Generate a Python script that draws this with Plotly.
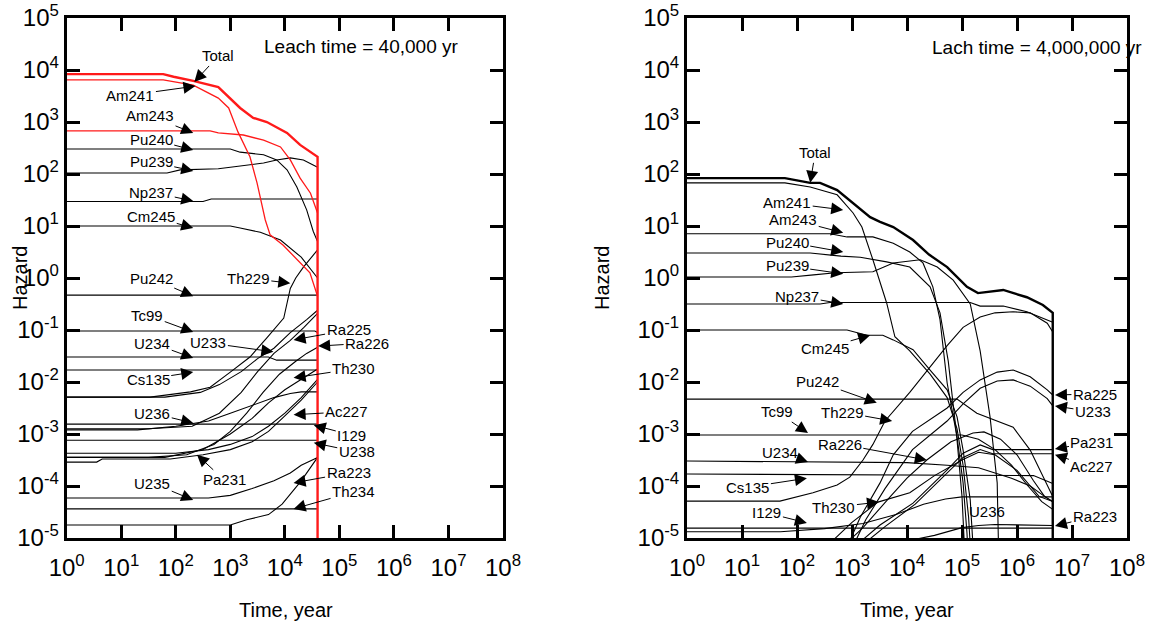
import plotly.graph_objects as go

# ---------------- data: (log10 time [yr], log10 hazard) ----------------
# Left panel: leach time 40,000 yr
L_TOTAL = [(0, 3.92), (1.77, 3.92), (1.96, 3.87), (2.32, 3.79), (2.78, 3.67), (3.18, 3.27), (3.42, 3.08),
           (3.67, 3.0), (4.04, 2.79), (4.28, 2.56), (4.6, 2.33), (4.6, -7)]
L_AM241 = [(0, 3.81), (1.77, 3.81), (2.32, 3.71), (2.78, 3.46), (2.97, 3.27), (3.14, 2.81), (3.36, 2.33),
           (3.49, 1.83), (3.64, 1.12), (3.73, 0.83), (3.97, 0.63), (4.22, 0.35), (4.46, 0.1), (4.6, -0.35)]
L_AM243 = [(0, 2.83), (2.63, 2.83), (2.78, 2.79), (3.24, 2.75), (3.61, 2.65), (3.92, 2.52), (4.1, 2.27),
           (4.28, 1.92), (4.47, 1.63), (4.6, 1.25)]
L_PU240 = [(0, 2.48), (3.0, 2.48), (3.18, 2.42), (3.61, 2.37), (3.85, 2.27), (4.04, 2.08), (4.22, 1.75),
           (4.4, 1.31), (4.52, 0.9), (4.6, 0.7)]
L_PU239 = [(0, 2.02), (1.84, 2.02), (2.08, 2.08), (2.78, 2.1), (3.0, 2.13), (3.3, 2.17), (3.61, 2.21),
           (3.85, 2.27), (4.1, 2.31), (4.34, 2.27), (4.6, 2.13)]
L_NP237 = [(0, 1.47), (2.5, 1.47), (2.65, 1.52), (4.6, 1.52)]
L_CM245 = [(0, 1.0), (3.0, 1.0), (3.18, 0.96), (3.55, 0.88), (3.92, 0.73), (4.04, 0.63), (4.3, 0.4), (4.6, 0.0)]
L_PU242 = [(0, -0.33), (4.6, -0.33)]
L_TH229 = [(0, -2.29), (1.53, -2.29), (2.27, -2.19), (2.63, -2.1), (3.0, -1.81), (3.36, -1.52), (3.67, -1.15),
           (3.98, -0.77), (4.1, -0.2), (4.2, 0.0), (4.34, 0.21), (4.6, 0.54)]
L_U233 = [(0, -2.29), (1.8, -2.29), (2.45, -2.2), (2.8, -2.05), (3.2, -1.8), (3.5, -1.55), (3.8, -1.35),
          (4.1, -1.05), (4.4, -0.8), (4.6, -0.62)]
L_RA225 = [(0, -2.9), (1.5, -2.9), (2.3, -2.85), (2.8, -2.6), (3.2, -2.2), (3.5, -1.8), (3.8, -1.45),
           (4.1, -1.2), (4.35, -0.95), (4.6, -0.68)]
L_TC99 = [(0, -1.02), (4.55, -1.02), (4.6, -1.05)]
L_U234 = [(0, -1.52), (3.7, -1.52), (3.85, -1.58), (4.6, -1.58)]
L_CS135 = [(0, -1.77), (4.6, -1.77)]
L_RA226 = [(0, -3.45), (1.5, -3.45), (2.2, -3.4), (2.7, -3.2), (3.0, -2.95), (3.3, -2.6), (3.6, -2.2),
           (3.9, -1.85), (4.2, -1.6), (4.4, -1.45), (4.6, -1.33)]
L_TH230 = [(0, -3.45), (1.8, -3.45), (2.5, -3.3), (3.0, -3.0), (3.4, -2.7), (3.7, -2.4), (4.0, -2.15),
           (4.3, -1.95), (4.6, -1.75)]
L_U236 = [(0, -2.92), (1.3, -2.92), (2.0, -2.85), (2.6, -2.75), (3.0, -2.6), (3.4, -2.45), (3.8, -2.3),
          (4.1, -2.22), (4.3, -2.19), (4.6, -2.19)]
L_I129 = [(0, -2.81), (4.6, -2.81)]
L_U238 = [(0, -3.12), (4.6, -3.12)]
L_PA231 = [(0, -3.37), (2.0, -3.37), (2.6, -3.3), (3.0, -3.2), (3.4, -3.05), (3.7, -2.85), (4.0, -2.6),
           (4.3, -2.3), (4.6, -1.95)]
L_AC227 = [(0, -3.54), (0.55, -3.54), (0.65, -3.48), (1.9, -3.48), (2.5, -3.4), (3.0, -3.3), (3.4, -3.15),
           (3.7, -2.95), (4.0, -2.65), (4.3, -2.35), (4.6, -2.0)]
L_U235 = [(0, -4.23), (2.6, -4.23), (3.0, -4.18), (3.4, -4.05), (3.8, -3.9), (4.1, -3.75), (4.3, -3.6), (4.6, -3.45)]
L_RA223 = [(0, -4.75), (3.0, -4.75), (3.3, -4.65), (3.7, -4.55), (3.95, -4.35), (4.15, -4.1), (4.3, -3.9), (4.6, -3.45)]
L_TH234 = [(0, -4.44), (4.6, -4.44)]

# Right panel: leach time 4,000,000 yr
R_TOTAL = [(0, 1.92), (1.78, 1.92), (2.24, 1.83), (2.42, 1.83), (2.73, 1.69), (3.09, 1.37), (3.33, 1.17),
           (3.51, 1.08), (3.75, 0.98), (4.11, 0.73), (4.4, 0.45), (4.73, 0.21), (5.09, -0.17), (5.29, -0.29),
           (5.75, -0.23), (6.18, -0.37), (6.47, -0.52), (6.65, -0.67), (6.65, -7)]
R_AM241 = [(0, 1.83), (1.78, 1.83), (2.24, 1.75), (2.73, 1.6), (3.02, 1.25), (3.18, 0.98), (3.38, 0.35),
           (3.63, -0.48), (3.78, -1.13), (4.05, -1.4), (4.42, -1.85), (4.73, -2.3), (4.91, -2.9), (5.02, -3.6),
           (5.12, -4.6), (5.17, -5.5)]
R_AM243 = [(0, 0.85), (2.6, 0.85), (2.91, 0.79), (3.38, 0.79), (3.75, 0.67), (4.05, 0.5), (4.29, 0.29),
           (4.47, -0.17), (4.6, -0.8), (4.73, -2.02), (4.91, -3.06), (5.02, -3.94), (5.09, -4.9), (5.12, -5.5)]
R_PU240 = [(0, 0.48), (2.24, 0.48), (2.8, 0.42), (3.15, 0.4), (3.63, 0.31), (4.05, 0.21), (4.42, -0.17),
           (4.6, -0.67), (4.75, -1.6), (4.9, -3.0), (5.0, -4.2), (5.06, -5.5)]
R_PU239 = [(0, 0.02), (1.9, 0.02), (2.3, 0.06), (2.7, 0.1), (3.38, 0.12), (3.75, 0.29), (4.24, 0.35),
           (4.55, 0.21), (4.84, -0.04), (5.15, -0.5), (5.33, -1.4), (5.51, -2.67), (5.64, -3.94), (5.67, -5.5)]
R_NP237 = [(0, -0.5), (2.42, -0.5), (2.6, -0.47), (5.15, -0.47), (5.33, -0.54), (5.75, -0.54), (6.18, -0.65),
           (6.45, -0.77), (6.65, -0.85)]
R_CM245 = [(0, -1.0), (2.91, -1.0), (3.27, -1.1), (3.56, -1.1), (3.75, -1.19), (4.11, -1.38), (4.42, -1.77),
           (4.73, -2.15), (4.91, -2.67), (5.02, -3.31), (5.15, -4.27), (5.22, -5.5)]
R_PU242 = [(0, -2.33), (4.91, -2.33), (5.27, -2.6), (5.93, -2.87), (6.24, -3.31), (6.42, -3.69), (6.65, -4.2)]
R_TC99 = [(0, -3.02), (5.0, -3.02), (5.3, -3.1), (5.6, -3.3), (5.9, -3.6), (6.2, -4.0), (6.45, -4.3), (6.65, -4.45)]
R_TH229 = [(0, -4.29), (1.69, -4.29), (2.29, -4.13), (2.73, -3.98), (2.96, -3.83), (3.2, -3.5), (3.38, -3.2),
           (3.6, -2.75), (4.05, -2.2), (4.42, -1.7), (4.73, -1.3), (5.02, -0.95), (5.33, -0.75), (5.6, -0.67),
           (5.93, -0.65), (6.24, -0.67), (6.55, -0.87), (6.65, -1.04)]
R_RA225 = [(2.9, -5.2), (3.15, -4.6), (3.51, -3.94), (3.75, -3.4), (4.1, -2.95), (4.73, -2.5), (5.02, -2.2),
           (5.33, -1.96), (5.64, -1.81), (5.93, -1.77), (6.24, -1.9), (6.55, -2.15), (6.65, -2.25)]
R_U233 = [(3.0, -5.2), (3.25, -4.65), (3.6, -4.05), (4.1, -3.3), (4.73, -2.75), (5.02, -2.42), (5.33, -2.12),
          (5.64, -1.98), (5.93, -1.96), (6.24, -2.08), (6.55, -2.32), (6.65, -2.46)]
R_PA231 = [(2.9, -5.3), (3.51, -4.75), (4.11, -4.33), (4.73, -3.69), (5.02, -3.37), (5.33, -3.21), (5.56, -3.3),
           (6.65, -3.3)]
R_AC227 = [(3.0, -5.3), (3.6, -4.78), (4.15, -4.35), (4.73, -3.75), (5.02, -3.45), (5.33, -3.3), (5.56, -3.38),
           (6.65, -3.38)]
R_TH230 = [(2.5, -5.2), (3.0, -4.7), (3.47, -4.31), (4.05, -4.13), (4.5, -3.8), (5.0, -3.5), (5.3, -3.35),
           (5.6, -3.4), (6.0, -3.7), (6.4, -4.2), (6.65, -4.3)]
R_RA226 = [(2.7, -5.3), (3.2, -4.8), (3.7, -4.2), (4.0, -3.85), (4.36, -3.5), (4.8, -3.15), (5.2, -2.98),
           (5.4, -2.96), (5.7, -3.1), (6.0, -3.4), (6.3, -3.9), (6.5, -4.2), (6.65, -4.3)]
R_U234 = [(0, -3.52), (4.0, -3.55), (4.73, -3.6), (5.3, -3.65), (5.9, -3.85), (6.24, -4.0), (6.5, -4.2), (6.65, -4.3)]
R_CS135 = [(0, -3.77), (6.3, -3.8), (6.65, -3.95)]
R_I129 = [(0, -4.81), (6.65, -4.81)]
R_U236 = [(0, -4.88), (1.7, -4.88), (2.5, -4.82), (3.2, -4.72), (3.8, -4.55), (4.3, -4.35), (4.7, -4.25),
          (5.0, -4.21), (6.65, -4.21)]
R_RA223 = [(3.2, -5.3), (3.8, -5.1), (4.5, -4.95), (5.0, -4.8), (5.3, -4.76), (5.6, -4.74), (6.65, -4.76)]

# labels: (text, arrow-head log10 x, arrow-head log10 y, text offset dx px, dy px)
L_LABELS = [("Total", 2.34, 3.77, 24, -26), ("Am241", 2.36, 3.69, -65, 9), ("Am243", 2.32, 2.79, -43, -17),
            ("Pu240", 2.32, 2.46, -42, -11), ("Pu239", 2.32, 2.06, -42, -9), ("Np237", 2.32, 1.48, -42, -9),
            ("Cm245", 2.32, 0.96, -42, -12), ("Pu242", 2.32, -0.35, -42, -18), ("Th229", 4.1, -0.1, -42, -5),
            ("Tc99", 2.32, -1.04, -46, -17), ("U234", 2.32, -1.54, -41, -15), ("U233", 3.79, -1.42, -65, -9),
            ("Cs135", 2.32, -1.81, -45, 7), ("U236", 2.32, -2.79, -41, -10), ("Pa231", 2.39, -3.4, 27, 25),
            ("U235", 2.32, -4.27, -41, -17), ("Ra225", 4.16, -1.19, 55, -10), ("Ra226", 4.61, -1.31, 49, -3),
            ("Th230", 4.16, -1.92, 60, -9), ("Ac227", 4.16, -2.63, 53, -3), ("I129", 4.53, -2.83, 38, 10),
            ("U238", 4.53, -3.17, 43, 9), ("Ra223", 4.16, -3.94, 55, -10), ("Th234", 4.16, -4.44, 60, -17)]
R_LABELS = [("Total", 2.24, 1.83, 5, -30), ("Am241", 2.84, 1.31, -56, -7), ("Am243", 2.84, 0.87, -50, -13),
            ("Pu240", 2.84, 0.5, -56, -10), ("Pu239", 2.84, 0.08, -56, -8), ("Np237", 2.84, -0.5, -46, -8),
            ("Cm245", 3.33, -1.1, -45, 13), ("Pu242", 3.45, -2.4, -59, -21), ("Tc99", 2.2, -2.98, -31, -21),
            ("Th229", 3.73, -2.75, -50, -9), ("Ra226", 4.36, -3.5, -87, -16), ("U234", 2.2, -3.54, -28, -10),
            ("Cs135", 2.18, -3.85, -59, 9), ("Th230", 3.49, -4.31, -45, 5), ("I129", 2.18, -4.71, -40, -10),
            ("U236", 5.47, -4.27, -1, 11), ("Ra225", 6.69, -2.25, 40, -1), ("U233", 6.69, -2.46, 38, 6),
            ("Pa231", 6.69, -3.29, 37, -7), ("Ac227", 6.69, -3.4, 37, 12), ("Ra223", 6.69, -4.77, 40, -10)]

X_TICK_EXP = [0, 1, 2, 3, 4, 5, 6, 7, 8]
Y_TICK_EXP = [-5, -4, -3, -2, -1, 0, 1, 2, 3, 4, 5]

RED = "#ff1a1a"
FONT = "Liberation Sans, Arial, sans-serif"
W, H = 1155, 625

fig = go.Figure()


def add(series, xa, ya, color="black", width=1.1):
    fig.add_trace(go.Scatter(x=[10 ** p[0] for p in series], y=[10 ** p[1] for p in series],
                             mode="lines", line=dict(color=color, width=width),
                             xaxis=xa, yaxis=ya, showlegend=False, hoverinfo="skip"))


for s in [L_PU240, L_PU239, L_NP237, L_CM245, L_PU242, L_TH229, L_U233, L_RA225, L_TC99, L_U234, L_CS135,
          L_RA226, L_TH230, L_U236, L_I129, L_U238, L_PA231, L_AC227, L_U235, L_RA223, L_TH234]:
    add(s, "x", "y")
add(L_AM243, "x", "y", RED, 1.3)
add(L_AM241, "x", "y", RED, 1.3)
add(L_TOTAL, "x", "y", RED, 2.4)

for s in [R_AM241, R_AM243, R_PU240, R_PU239, R_NP237, R_CM245, R_PU242, R_TC99, R_TH229, R_RA225, R_U233,
          R_PA231, R_AC227, R_TH230, R_RA226, R_U234, R_CS135, R_I129, R_U236, R_RA223]:
    add(s, "x2", "y2")
add(R_TOTAL, "x2", "y2", "black", 2.4)

annotations = []
for labels, xr, yr in [(L_LABELS, "x", "y"), (R_LABELS, "x2", "y2")]:
    for text, hx, hy, dx, dy in labels:
        annotations.append(dict(text=text, x=hx, y=hy, xref=xr, yref=yr, ax=dx, ay=dy,
                                showarrow=True, arrowhead=2, arrowsize=2.4, arrowwidth=1,
                                arrowcolor="black", font=dict(size=15, color="black", family=FONT)))


def paper_text(text, px, py, size, angle=0):
    annotations.append(dict(text=text, x=px / W, y=1 - py / H, xref="paper", yref="paper",
                            xanchor="center", yanchor="middle", showarrow=False, textangle=angle,
                            font=dict(size=size, color="black", family=FONT)))


paper_text("Leach time = 40,000 yr", 361, 46, 19)
paper_text("Lach time = 4,000,000 yr", 1037, 48, 19)
paper_text("Time, year", 286, 610, 20)
paper_text("Time, year", 907, 610, 20)
paper_text("Hazard", 20, 278, 20, -90)
paper_text("Hazard", 602, 278, 20, -90)

xticktext = ["10<sup>%d</sup>" % e for e in X_TICK_EXP]
yticktext = ["10<sup>%d</sup>" % e for e in Y_TICK_EXP]

common_x = dict(type="log", range=[0, 8], tickmode="array", tickvals=[10 ** e for e in X_TICK_EXP],
                ticktext=xticktext, ticks="inside", ticklen=13, tickwidth=2.5, tickcolor="black",
                showline=True, linewidth=3, linecolor="black", mirror="allticks", showgrid=False,
                zeroline=False, tickfont=dict(size=24, family=FONT, color="black"), ticklabelstandoff=6,
                automargin=False)
common_y = dict(type="log", range=[-5, 5], tickmode="array", tickvals=[10 ** e for e in Y_TICK_EXP],
                ticktext=yticktext, ticks="inside", ticklen=13, tickwidth=2.5, tickcolor="black",
                showline=True, linewidth=3, linecolor="black", mirror="allticks", showgrid=False,
                zeroline=False, tickfont=dict(size=24, family=FONT, color="black"),
                automargin=False)

y_dom = [(H - 538) / H, (H - 18) / H]
fig.update_layout(
    width=W, height=H, margin=dict(l=0, r=0, t=0, b=0),
    paper_bgcolor="white", plot_bgcolor="white",
    xaxis=dict(common_x, domain=[66.7 / W, 503 / W], anchor="y"),
    yaxis=dict(common_y, domain=y_dom, anchor="x"),
    xaxis2=dict(common_x, domain=[687 / W, 1127 / W], anchor="y2"),
    yaxis2=dict(common_y, domain=y_dom, anchor="x2"),
    annotations=annotations,
    font=dict(family=FONT, color="black"),
)

fig.write_html("out.html")
